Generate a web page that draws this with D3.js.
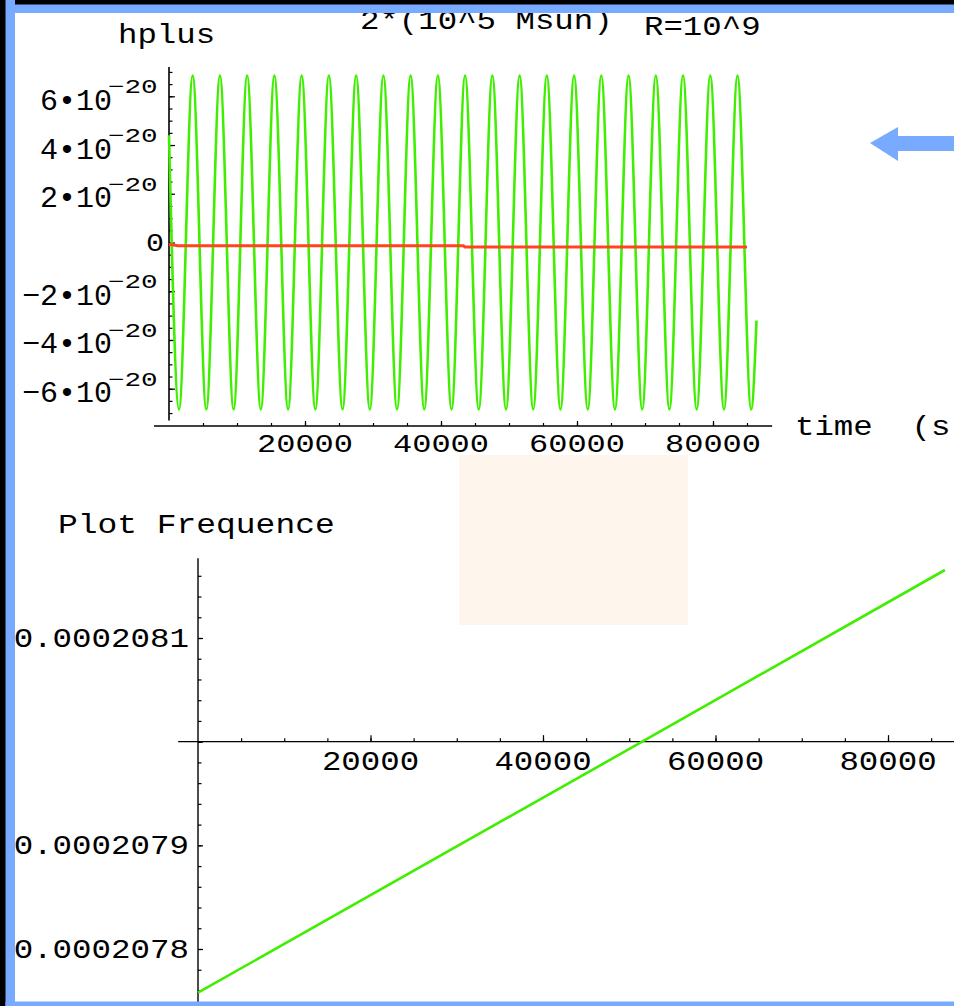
<!DOCTYPE html>
<html>
<head>
<meta charset="utf-8">
<script src="https://cdn.jsdelivr.net/npm/d3@7"></script>
<style>
  body { margin: 0; background: #fff; }
  svg { display: block; }
  text { font-family: "Courier New", "Liberation Mono", monospace; fill: #000; white-space: pre; }
</style>
</head>
<body>
<svg id="chart" width="954" height="1006"></svg>
<script>
// hplus: turning points (t in s, h in units of 1e-20)
var waveT = [0, 1470, 3480, 5490, 7490, 9500, 11490, 13500, 15500, 17510, 19510,
  21520, 23510, 25520, 27520, 29530, 31530, 33530, 35530, 37540, 39540,
  41550, 43540, 45550, 47550, 49560, 51560, 53560, 55560, 57570, 59570,
  61580, 63570, 65580, 67580, 69590, 71590, 73590, 75590, 77600, 79600,
  81610, 83600, 85610, 86400];
var waveH = [4.4, -6.85, 6.85, -6.85, 6.85, -6.85, 6.85, -6.85, 6.85, -6.85, 6.85,
  -6.85, 6.85, -6.85, 6.85, -6.85, 6.85, -6.85, 6.85, -6.85, 6.85,
  -6.85, 6.85, -6.85, 6.85, -6.85, 6.85, -6.85, 6.85, -6.85, 6.85,
  -6.85, 6.85, -6.85, 6.85, -6.85, 6.85, -6.85, 6.85, -6.85, 6.85,
  -6.85, 6.85, -6.85, -3.2];

// red trace, almost flat just under zero
var redT = [0, 1300, 43300, 43500, 85000];
var redH = [-0.07, -0.13, -0.13, -0.18, -0.18];

// frequency plot
var freqT = [0, 51500, 86600];
var freqV = [2.077579e-4, 2.0800e-4, 2.081656e-4];

// tick labels
var topXTicks = [20000, 40000, 60000, 80000];
var topYTicks = [6, 4, 2, -2, -4, -6];
var botXTicks = [20000, 40000, 60000, 80000];
var botYTicks = [2.081e-4, 2.079e-4, 2.078e-4];

var svg = d3.select("#chart");
var blue = "#78aaff";
var green = "#40ee00";
var red = "#ff4422";

function put(x, y, s, size, sx, anchor) {
  return svg.append("text")
    .attr("transform", "translate(" + x + "," + y + ") scale(" + sx + ",1)")
    .attr("text-anchor", anchor || "start")
    .attr("xml:space", "preserve")
    .style("font-size", size + "px")
    .text(s);
}

function ticks(axis, tx, ty) {
  svg.append("g")
    .attr("transform", "translate(" + tx + "," + ty + ")")
    .call(axis)
    .call(function(g){ g.select(".domain").remove(); })
    .selectAll("line").attr("stroke", "#000").attr("stroke-width", 1.2);
}

// pale box in the middle
svg.append("rect").attr("x", 459).attr("y", 455).attr("width", 229).attr("height", 170)
  .attr("fill", "#fef6ec");

// ---------- top plot ----------
var x = d3.scaleLinear().domain([0, 80000]).range([169, 713]);
var y = d3.scaleLinear().domain([-6, 6]).range([388.7, 96.3]);
var xAxisY = 426;

svg.append("line").attr("x1", x(0)).attr("x2", x(0))
  .attr("y1", y(7.2)).attr("y2", y(-7.3))
  .attr("stroke", "#000").attr("stroke-width", 1.6);
svg.append("line").attr("x1", x(-2200)).attr("x2", x(88700))
  .attr("y1", xAxisY).attr("y2", xAxisY)
  .attr("stroke", "#000").attr("stroke-width", 1.4);

ticks(d3.axisRight(y).tickValues(d3.range(-6, 7, 2)).tickSize(6).tickFormat(""), x(0), 0);
ticks(d3.axisRight(y).tickValues(d3.range(-7, 7.01, 0.5)).tickSize(3.5).tickFormat(""), x(0), 0);
ticks(d3.axisTop(x).tickValues(topXTicks).tickSize(5).tickFormat(""), 0, xAxisY);
ticks(d3.axisTop(x).tickValues(d3.range(5000, 90000, 5000)).tickSize(3).tickFormat(""), 0, xAxisY);

var wave = waveT.map(function(t, i){ return [t, waveH[i]]; });
svg.append("path").datum(wave)
  .attr("fill", "none").attr("stroke", green).attr("stroke-width", 2.6)
  .attr("d", d3.line().x(function(d){ return x(d[0]); }).y(function(d){ return y(d[1]); })
    .curve(d3.curveMonotoneX));

var redLine = redT.map(function(t, i){ return [t, redH[i]]; });
svg.append("path").datum(redLine)
  .attr("fill", "none").attr("stroke", red).attr("stroke-width", 3)
  .attr("d", d3.line().x(function(d){ return x(d[0]); }).y(function(d){ return y(d[1]); }));

topYTicks.forEach(function(v){
  var s = (v < 0 ? "\u2212" : "") + Math.abs(v) + "\u202210";
  put(112, y(v) + 13.5, s, 30, 1.0, "end");
  put(108, y(v) - 3, "\u221220", 20, 1.38, "start");
});
put(164, y(0) + 8.5, "0", 25, 1.2, "end");

topXTicks.forEach(function(v){
  put(x(v), 452, String(v), 25, 1.28, "middle");
});

put(795, 435, "time  (s", 27, 1.2, "start");
put(118, 42.5, "hplus", 27, 1.2, "start");
put(360, 29, "2*(10^5 Msun)", 27, 1.2, "start");
put(644, 35, "R=10^9", 27, 1.2, "start");

// ---------- bottom plot ----------
var x2 = d3.scaleLinear().domain([0, 80000]).range([198, 888]);
var y2 = d3.scaleLinear().domain([2.078e-4, 2.081e-4]).range([949, 638]);
var base = 2.08e-4;

svg.append("line").attr("x1", x2(0)).attr("x2", x2(0))
  .attr("y1", y2(2.08177e-4)).attr("y2", 1006)
  .attr("stroke", "#000").attr("stroke-width", 1.4);
svg.append("line").attr("x1", x2(-2300)).attr("x2", 954)
  .attr("y1", y2(base)).attr("y2", y2(base))
  .attr("stroke", "#000").attr("stroke-width", 1.4);

ticks(d3.axisTop(x2).tickValues(botXTicks).tickSize(6.5).tickFormat(""), 0, y2(base));
ticks(d3.axisTop(x2).tickValues(d3.range(5000, 90000, 5000)).tickSize(3.3).tickFormat(""), 0, y2(base));
ticks(d3.axisRight(y2).tickValues([2.078e-4, 2.079e-4, 2.080e-4, 2.081e-4]).tickSize(5).tickFormat(""), x2(0), 0);
ticks(d3.axisRight(y2).tickValues(d3.range(-12, 9).map(function(k){ return base + k * 2e-8; }))
  .tickSize(3.5).tickFormat(""), x2(0), 0);

var freq = freqT.map(function(t, i){ return [t, freqV[i]]; });
svg.append("path").datum(freq)
  .attr("fill", "none").attr("stroke", green).attr("stroke-width", 2.6)
  .attr("d", d3.line().x(function(d){ return x2(d[0]); }).y(function(d){ return y2(d[1]); }));

var fmt = d3.format(".7f");
botYTicks.forEach(function(v){
  put(189, y2(v) + 9, fmt(v), 28, 1.16, "end");
});
botXTicks.forEach(function(v){
  put(x2(v), 770, String(v), 27, 1.2, "middle");
});
put(58, 533, "Plot Frequence", 27, 1.22, "start");

// ---------- arrow ----------
svg.append("polygon")
  .attr("points", "870,143 898,127 898,136 954,136 954,151 898,151 898,161")
  .attr("fill", blue);

// ---------- frame ----------
svg.append("rect").attr("x", 0).attr("y", 0).attr("width", 954).attr("height", 13).attr("fill", blue);
svg.append("rect").attr("x", 0).attr("y", 0).attr("width", 954).attr("height", 4.5).attr("fill", "#000");
svg.append("rect").attr("x", 0).attr("y", 0).attr("width", 15).attr("height", 1006).attr("fill", blue);
svg.append("rect").attr("x", 0).attr("y", 0).attr("width", 5.5).attr("height", 1006).attr("fill", "#000");
svg.append("rect").attr("x", 5.5).attr("y", 1001.5).attr("width", 949).attr("height", 4.5).attr("fill", blue);
</script>
</body>
</html>
